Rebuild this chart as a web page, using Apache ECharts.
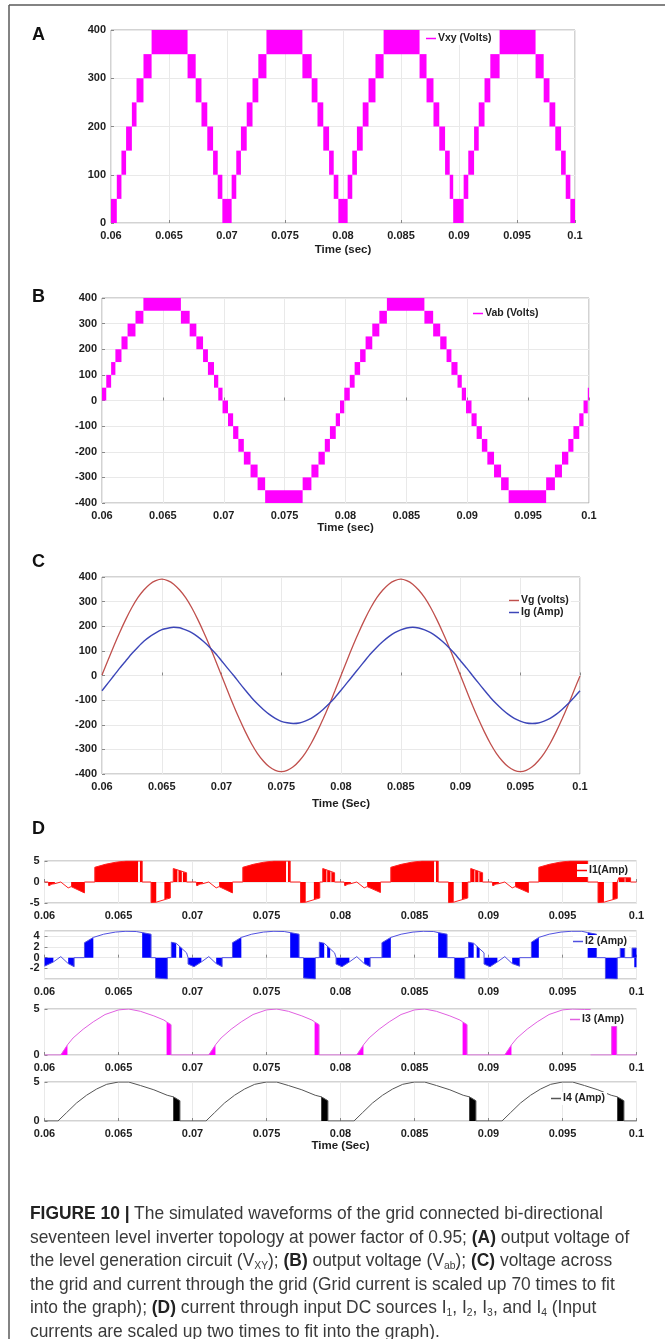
<!DOCTYPE html>
<html><head><meta charset="utf-8">
<script src="https://cdn.jsdelivr.net/npm/echarts@6/dist/echarts.min.js"></script>
<style>
html,body{margin:0;padding:0;background:#fff;}
#chart{position:absolute;left:0;top:0;width:665px;height:1339px;}
#cap{position:absolute;left:30px;top:1201px;font-family:'Liberation Sans',Arial,sans-serif;font-size:18.5px;line-height:23.6px;color:#3a3a3a;white-space:nowrap;transform:scaleX(0.94);transform-origin:0 0;}
#cap b{font-weight:bold;color:#222;}
#cap sub{font-size:11px;vertical-align:-3px;line-height:0;}
</style></head><body>
<div id="chart"></div>
<div id="cap"><b>FIGURE 10 |</b> The simulated waveforms of the grid connected bi-directional<br>seventeen level inverter topology at power factor of 0.95; <b>(A)</b> output voltage of<br>the level generation circuit (V<sub>XY</sub>); <b>(B)</b> output voltage (V<sub>ab</sub>); <b>(C)</b> voltage across<br>the grid and current through the grid (Grid current is scaled up 70 times to fit<br>into the graph); <b>(D)</b> current through input DC sources I<sub>1</sub>, I<sub>2</sub>, I<sub>3</sub>, and I<sub>4</sub> (Input<br>currents are scaled up two times to fit into the graph).</div>
<script>
// ---------- DATA ----------
const X_MIN = 0.06, X_MAX = 0.1, X_STEP = 0.005;
const LEVEL_STEP = 50;

// Panel A: Vxy staircase blocks (start time, lower level of block)
const vxyStart = [0.0600,0.0605,0.0609,0.0613,0.0618,0.0622,0.0628,0.0635,0.0666,0.0673,0.0678,0.0683,0.0688,0.0692,0.0696,
 0.0704,0.0708,0.0712,0.0717,0.0722,0.0727,0.0734,0.0765,0.0773,0.0778,0.0783,0.0788,0.0792,0.0796,
 0.0804,0.0808,0.0812,0.0817,0.0822,0.0828,0.0835,0.0866,0.0872,0.0878,0.0883,0.0888,0.0892,0.0895,
 0.0904,0.0908,0.0913,0.0917,0.0922,0.0927,0.0935,0.0966,0.0973,0.0978,0.0983,0.0988,0.0992,0.0996];
const vxyLow = [0,50,100,150,200,250,300,350,300,250,200,150,100,50,0,
 50,100,150,200,250,300,350,300,250,200,150,100,50,0,
 50,100,150,200,250,300,350,300,250,200,150,100,50,0,
 50,100,150,200,250,300,350,300,250,200,150,100,50,0];

// Panel B: Vab staircase blocks
const vabStart = [0.0600,0.06035,0.06075,0.0611,0.0616,0.0621,0.06275,0.0634,
 0.06648,0.0672,0.06775,0.0683,0.0687,0.0692,0.06955,
 0.0699,0.07035,0.07077,0.0712,0.07165,0.0722,0.07278,0.0734,
 0.07648,0.0772,0.07778,0.0783,0.07872,0.0792,0.07955,
 0.0799,0.08035,0.08075,0.0812,0.08165,0.0822,0.08278,0.0834,
 0.08648,0.0872,0.08778,0.0883,0.0887,0.0892,0.08955,
 0.0899,0.09035,0.09077,0.0912,0.09165,0.0922,0.09278,0.0934,
 0.09648,0.0972,0.09778,0.0983,0.09872,0.0992,0.09955,
 0.0999];
const vabLow = [0,50,100,150,200,250,300,350,
 300,250,200,150,100,50,0,
 -50,-100,-150,-200,-250,-300,-350,-400,
 -350,-300,-250,-200,-150,-100,-50,
 0,50,100,150,200,250,300,350,
 300,250,200,150,100,50,0,
 -50,-100,-150,-200,-250,-300,-350,-400,
 -350,-300,-250,-200,-150,-100,-50,
 0];

// Panel C: grid voltage and grid current
const cTime = [0.0600,0.0605,0.0610,0.0615,0.0620,0.0625,0.0630,0.0635,0.0640,0.0645,
 0.0650,0.0655,0.0660,0.0665,0.0670,0.0675,0.0680,0.0685,0.0690,0.0695,
 0.0700,0.0705,0.0710,0.0715,0.0720,0.0725,0.0730,0.0735,0.0740,0.0745,
 0.0750,0.0755,0.0760,0.0765,0.0770,0.0775,0.0780,0.0785,0.0790,0.0795,
 0.0800,0.0805,0.0810,0.0815,0.0820,0.0825,0.0830,0.0835,0.0840,0.0845,
 0.0850,0.0855,0.0860,0.0865,0.0870,0.0875,0.0880,0.0885,0.0890,0.0895,
 0.0900,0.0905,0.0910,0.0915,0.0920,0.0925,0.0930,0.0935,0.0940,0.0945,
 0.0950,0.0955,0.0960,0.0965,0.0970,0.0975,0.0980,0.0985,0.0990,0.0995,0.1000];
const vgVals = [2,62,121,177,229,276,316,347,371,385,
 391,385,371,347,316,276,229,177,121,61,
 0,-61,-121,-177,-229,-276,-316,-347,-371,-385,
 -390,-385,-371,-347,-316,-276,-229,-177,-121,-61,
 0,61,121,177,229,276,316,347,371,385,
 391,385,371,347,316,276,229,177,121,61,
 0,-61,-121,-177,-229,-276,-316,-347,-371,-385,
 -390,-385,-371,-347,-316,-276,-229,-177,-121,-61,-2];
const igVals = [-62,-31,0,31,60,89,115,139,158,173,
 186,192,196,194,185,174,158,138,115,89,
 60,30,1,-30,-60,-89,-115,-138,-158,-174,
 -186,-192,-195,-193,-185,-174,-158,-138,-115,-89,
 -60,-30,0,30,60,89,115,138,158,174,
 185,193,196,193,185,174,158,138,115,89,
 60,31,0,-30,-60,-89,-115,-138,-158,-174,
 -185,-193,-195,-193,-185,-174,-158,-138,-115,-89,-62];

// Panel D: input DC source currents (thin trace + filled switching blocks)
const i1Line = [[0.06,0],[0.06025,0],[0.0603,-0.9],[0.0605,-0.5],[0.0607,-0.4],[0.0608,0],[0.0611,0],[0.0616,-1.4],[0.0618,-1.1],[0.0627,-2.6],[0.0627,0],[0.0634,0],[0.0634,3.5],[0.0641,4.2],[0.0648,4.7],[0.0655,5],[0.0666,5],[0.0666,0],[0.0672,0],[0.0672,-4.9],[0.06755,-4.8],[0.0685,-3.8],[0.0685,0],[0.0687,0],[0.0687,3.2],[0.0696,2.2],[0.0696,0],
 [0.07025,0],[0.0703,-0.9],[0.0705,-0.5],[0.0707,-0.4],[0.0708,0],[0.0711,0],[0.0716,-1.4],[0.0718,-1.1],[0.0727,-2.6],[0.0727,0],[0.0734,0],[0.0734,3.5],[0.0741,4.2],[0.0748,4.7],[0.0755,5],[0.0766,5],[0.0766,0],[0.0773,0],[0.0773,-4.9],[0.07765,-4.8],[0.0786,-3.8],[0.0786,0],[0.0788,0],[0.0788,3.2],[0.0796,2.2],[0.0796,0],
 [0.08025,0],[0.0803,-0.9],[0.0805,-0.5],[0.0807,-0.4],[0.0808,0],[0.0811,0],[0.0816,-1.4],[0.0818,-1.1],[0.0827,-2.5],[0.0827,0],[0.0834,0],[0.0834,3.5],[0.0841,4.2],[0.0848,4.7],[0.0855,5],[0.0866,5],[0.0866,0],[0.0873,0],[0.0873,-4.9],[0.08765,-4.8],[0.0886,-3.8],[0.0886,0],[0.0888,0],[0.0888,3.2],[0.0896,2.2],[0.0896,0],
 [0.09025,0],[0.0903,-0.9],[0.0905,-0.5],[0.0907,-0.4],[0.0908,0],[0.0911,0],[0.0916,-1.4],[0.0918,-1.1],[0.0927,-2.5],[0.0927,0],[0.0934,0],[0.0934,3.5],[0.0941,4.2],[0.0948,4.7],[0.0955,5],[0.0967,5],[0.0967,0],[0.0974,0],[0.0974,-4.9],[0.0978,-4.8],[0.0987,-3.9],[0.0987,0],[0.0988,0],[0.0988,1.0],[0.0996,1.0],[0.0996,0],[0.1,0]];
const i1Blocks = [
 [[0.06025,-0.9],[0.0605,-0.5],[0.0607,-0.4]],[[0.0618,-1.1],[0.0627,-2.6]],[[0.0634,3.5],[0.0641,4.2],[0.0648,4.7],[0.0655,5],[0.06632,5]],[[0.06645,5],[0.0666,5]],[[0.0672,-4.9],[0.06755,-4.8]],[[0.0681,-4.1],[0.0685,-3.8]],[[0.0687,3.2],[0.06898,3.0]],[[0.06905,2.8],[0.06928,2.6]],[[0.06935,2.4],[0.0696,2.2]],
 [[0.07025,-0.9],[0.0705,-0.5],[0.0707,-0.4]],[[0.0718,-1.1],[0.0727,-2.6]],[[0.0734,3.5],[0.0741,4.2],[0.0748,4.7],[0.0755,5],[0.07632,5]],[[0.07645,5],[0.0766,5]],[[0.0773,-4.9],[0.07765,-4.8]],[[0.0782,-4.1],[0.0786,-3.8]],[[0.0788,3.2],[0.07905,3.0]],[[0.0791,2.8],[0.07932,2.6]],[[0.07938,2.4],[0.0796,2.2]],
 [[0.08025,-0.9],[0.0805,-0.5],[0.0807,-0.4]],[[0.0818,-1.1],[0.0827,-2.5]],[[0.0834,3.5],[0.0841,4.2],[0.0848,4.7],[0.0855,5],[0.08632,5]],[[0.08645,5],[0.0866,5]],[[0.0873,-4.9],[0.08765,-4.8]],[[0.0882,-4.1],[0.0886,-3.8]],[[0.0888,3.2],[0.08905,3.0]],[[0.0891,2.8],[0.08932,2.6]],[[0.08938,2.4],[0.0896,2.2]],
 [[0.09025,-0.9],[0.0905,-0.5],[0.0907,-0.4]],[[0.0918,-1.1],[0.0927,-2.5]],[[0.0934,3.5],[0.0941,4.2],[0.0948,4.7],[0.0955,5],[0.0967,5]],[[0.0974,-4.9],[0.0978,-4.8]],[[0.09838,-4.1],[0.0987,-3.9]],[[0.0988,1.0],[0.0992,1.0]],[[0.09925,1.0],[0.0996,1.0]]];

const i2Line = [[0.06,-1.6],[0.0606,-0.8],[0.0611,0.2],[0.0616,-1.1],[0.062,-1.7],[0.062,0],[0.0627,0],[0.0627,2.8],[0.0633,3.8],[0.064,4.4],[0.0648,4.8],[0.0655,4.95],[0.0662,4.9],[0.0666,4.7],[0.0672,4.4],[0.0672,0],[0.0675,0],[0.0675,-3.8],[0.0683,-4.0],[0.0683,0],[0.06857,0],[0.06857,2.9],[0.0689,2.7],[0.0696,0.9],[0.0697,0],[0.0697,-1.2],[0.0701,-1.7],[0.0706,-0.8],
 [0.0711,0.2],[0.0716,-1.1],[0.072,-1.7],[0.072,0],[0.0727,0],[0.0727,2.8],[0.0733,3.8],[0.074,4.4],[0.0748,4.8],[0.0755,4.95],[0.0762,4.9],[0.0766,4.7],[0.0772,4.4],[0.0772,0],[0.0775,0],[0.0775,-3.8],[0.0783,-4.0],[0.0783,0],[0.07857,0],[0.07857,2.9],[0.0789,2.7],[0.0796,0.9],[0.0797,0],[0.0797,-1.2],[0.0801,-1.7],[0.0806,-0.8],
 [0.0811,0.2],[0.0816,-1.1],[0.082,-1.7],[0.082,0],[0.0828,0],[0.0828,2.8],[0.0834,3.8],[0.0841,4.4],[0.0849,4.8],[0.0856,4.95],[0.0863,4.9],[0.0866,4.7],[0.0872,4.4],[0.0872,0],[0.0877,0],[0.0877,-3.8],[0.0884,-4.0],[0.0884,0],[0.08865,0],[0.08865,2.9],[0.089,2.7],[0.0897,0.9],[0.0897,0],[0.0897,-1.2],[0.0901,-1.7],[0.0906,-0.8],
 [0.0911,0.2],[0.0916,-1.1],[0.0921,-1.6],[0.0921,0],[0.0929,0],[0.0929,2.9],[0.0934,3.8],[0.0941,4.4],[0.0949,4.8],[0.0956,4.95],[0.0963,4.95],[0.0967,4.7],[0.0973,4.4],[0.0973,0],[0.0979,0],[0.0979,-3.9],[0.0987,-4.0],[0.0987,0],[0.0989,0],[0.0989,1.8],[0.0992,1.8],[0.0992,0],[0.0997,0],[0.0997,1.8],[0.1,1.8]];
const i2Blocks = [
 [[0.06,-1.6],[0.0606,-0.8]],[[0.0616,-1.1],[0.062,-1.7]],[[0.0627,2.8],[0.0633,3.8]],[[0.0666,4.7],[0.0672,4.4]],[[0.0675,-3.8],[0.0683,-4.0]],[[0.06857,2.9],[0.0689,2.7]],[[0.0691,2.2],[0.0693,1.7]],[[0.0697,-1.2],[0.0701,-1.7],[0.0706,-0.8]],
 [[0.0716,-1.1],[0.072,-1.7]],[[0.0727,2.8],[0.0733,3.8]],[[0.0766,4.7],[0.0772,4.4]],[[0.0775,-3.8],[0.0783,-4.0]],[[0.07857,2.9],[0.0789,2.7]],[[0.0791,2.2],[0.0793,1.7]],[[0.0797,-1.2],[0.0801,-1.7],[0.0806,-0.8]],
 [[0.0816,-1.1],[0.082,-1.7]],[[0.0828,2.8],[0.0834,3.8]],[[0.0866,4.7],[0.0872,4.4]],[[0.0877,-3.8],[0.0884,-4.0]],[[0.08865,2.9],[0.089,2.7]],[[0.0892,2.2],[0.0894,1.7]],[[0.0897,-1.2],[0.0901,-1.7],[0.0906,-0.8]],
 [[0.0916,-1.1],[0.0921,-1.6]],[[0.0929,2.9],[0.0934,3.8]],[[0.0967,4.7],[0.0973,4.4]],[[0.0979,-3.9],[0.0987,-4.0]],[[0.0989,1.8],[0.0992,1.8]],[[0.0997,1.8],[0.1,1.8]],[[0.09985,-1.8],[0.1,-1.8]]];

const i3Line = [[0.06,0],[0.0611,0],[0.06155,1.1],[0.06193,1.85],[0.06261,2.8],[0.06329,3.6],[0.06409,4.4],[0.065,4.9],[0.06568,5],[0.06648,4.75],[0.06739,4.25],[0.06807,3.8],[0.06825,3.6],[0.06855,3.3],[0.06855,0],
 [0.0711,0],[0.07155,1.1],[0.07193,1.85],[0.07261,2.8],[0.07329,3.6],[0.07409,4.4],[0.075,4.9],[0.07568,5],[0.07648,4.75],[0.07739,4.25],[0.07807,3.8],[0.07825,3.6],[0.07855,3.3],[0.07855,0],
 [0.0811,0],[0.08155,1.1],[0.08193,1.85],[0.08261,2.8],[0.08329,3.6],[0.08409,4.4],[0.085,4.9],[0.08568,5],[0.08648,4.75],[0.08739,4.25],[0.08807,3.8],[0.08825,3.6],[0.08855,3.3],[0.08855,0],
 [0.0911,0],[0.09155,1.1],[0.09193,1.85],[0.09261,2.8],[0.09329,3.6],[0.09409,4.4],[0.095,4.9],[0.09568,5],[0.0965,4.95],[0.0969,4.95],[0.0969,null],[0.0969,0],[0.09832,0],[0.09832,3.1],[0.09866,3.1],[0.09866,0],[0.1,0]];
const i3Blocks = [[[0.0611,0.05],[0.06155,1.1]],[[0.06825,3.6],[0.06855,3.3]],
 [[0.0711,0.05],[0.07155,1.1]],[[0.07825,3.6],[0.07855,3.3]],
 [[0.0811,0.05],[0.08155,1.1]],[[0.08825,3.6],[0.08855,3.3]],
 [[0.0911,0.05],[0.09155,1.1]],[[0.09832,3.1],[0.09866,3.1]]];

const i4Line = [[0.06,0],[0.06091,0],[0.06148,1.05],[0.06216,2.3],[0.06284,3.3],[0.06352,4.1],[0.0642,4.7],[0.065,5],[0.06568,5],[0.06648,4.55],[0.06739,4.0],[0.06829,3.3],[0.0687,3.1],[0.06915,2.6],[0.06915,0],
 [0.07091,0],[0.07148,1.05],[0.07216,2.3],[0.07284,3.3],[0.07352,4.1],[0.0742,4.7],[0.075,5],[0.07568,5],[0.07648,4.55],[0.07739,4.0],[0.07829,3.3],[0.0787,3.1],[0.07915,2.6],[0.07915,0],
 [0.08091,0],[0.08148,1.05],[0.08216,2.3],[0.08284,3.3],[0.08352,4.1],[0.0842,4.7],[0.085,5],[0.08568,5],[0.08648,4.55],[0.08739,4.0],[0.08829,3.3],[0.0887,3.1],[0.08915,2.6],[0.08915,0],
 [0.09091,0],[0.09148,1.05],[0.09216,2.3],[0.09284,3.3],[0.09352,4.1],[0.0942,4.7],[0.095,5],[0.09568,5],[0.09648,4.55],[0.09739,4.0],[0.09829,3.3],[0.0987,3.1],[0.09915,2.6],[0.09915,0],[0.1,0]];
const i4Blocks = [[[0.0687,3.15],[0.06915,2.6]],[[0.0787,3.15],[0.07915,2.6]],[[0.0887,3.15],[0.08915,2.6]],[[0.0987,3.1],[0.09915,2.6]]];

// ---------- CHART ----------
const FONT = "'Liberation Sans', Arial, sans-serif";
const chart = echarts.init(document.getElementById('chart'), null, {renderer:'canvas'});

function stairData(starts, lows){
  return starts.map((t,i)=>[t, i+1<starts.length?starts[i+1]:X_MAX, lows[i], lows[i]+LEVEL_STEP]);
}
function rectItem(params, api){
  const a = api.coord([api.value(0), api.value(3)]);
  const b = api.coord([api.value(1), api.value(2)]);
  return {type:'rect', shape:{x:a[0], y:a[1], width:Math.max(b[0]-a[0],1), height:b[1]-a[1]}, style:{fill:api.visual('color')}};
}
function polyRender(polys){
  return function(params, api){
    const p = polys[params.dataIndex];
    const pts = p.map(q=>api.coord(q));
    pts.push(api.coord([p[p.length-1][0],0]));
    pts.push(api.coord([p[0][0],0]));
    const w = pts[pts.length-2][0]-pts[pts.length-1][0];
    if (w < 1.2) { pts[pts.length-2][0] += (1.2-w); pts[pts.length-3][0] += (1.2-w); }
    return {type:'polygon', shape:{points:pts}, style:{fill:api.visual('color')}};
  };
}
function polyData(polys){ return polys.map(p=>[p[0][0], p[0][1]]); }

const grids = [
  {left:111, top:30, width:464, height:193},
  {left:102, top:298, width:487, height:205},
  {left:102, top:577, width:478, height:197},
  {left:44.5, top:861, width:592, height:42},
  {left:44.5, top:931, width:592, height:48},
  {left:44.5, top:1009, width:592, height:46},
  {left:44.5, top:1082, width:592, height:39}
].map(g=>Object.assign(g,{show:true, borderColor:'#a6a6a6', borderWidth:1, backgroundColor:'#fff'}));

const labelStyle = {fontFamily:FONT, fontWeight:'bold', fontSize:11, color:'#1e1e1e'};
function xAx(i, name, gap){
  return {type:'value', gridIndex:i, min:X_MIN, max:X_MAX, interval:X_STEP,
    axisLine:{show:false}, axisTick:{show:true, inside:true, length:3, lineStyle:{color:'#888'}},
    splitLine:{show:true, lineStyle:{color:'#e9e9e9', width:1}},
    axisLabel:Object.assign({margin:7}, labelStyle),
    name:name||'', nameLocation:'middle', nameGap:gap||20,
    nameTextStyle:{fontFamily:FONT, fontWeight:'bold', fontSize:11.5, color:'#1e1e1e'}};
}
function yAx(i, min, max, interval, hideMax){
  return {type:'value', gridIndex:i, min:min, max:max, interval:interval,
    axisLine:{show:false}, axisTick:{show:true, inside:true, length:3, lineStyle:{color:'#888'}},
    splitLine:{show:true, lineStyle:{color:'#e9e9e9', width:1}},
    axisLabel:Object.assign({margin:5, showMaxLabel:!hideMax}, labelStyle)};
}

const legendText = {fontFamily:FONT, fontWeight:'bold', fontSize:10.5, color:'#222', padding:[0,0,0,-3]};
function leg(name, left, top, extra){
  return Object.assign({data:Array.isArray(name)?name:[name], left:left, top:top, icon:'rect', itemWidth:10, itemHeight:1.5,
    padding:[1,2,1,0], itemGap:2, backgroundColor:'#fff', selectedMode:false, textStyle:legendText}, extra||{});
}

const MAG = '#ff00ff';
const option = {
  animation:false,
  grid:grids,
  xAxis:[xAx(0,'Time (sec)',21), xAx(1,'Time (sec)',18), xAx(2,'Time (Sec)',24), xAx(3), xAx(4), xAx(5), xAx(6,'Time (Sec)',13)],
  yAxis:[yAx(0,0,400,100), yAx(1,-400,400,100), yAx(2,-400,400,100), yAx(3,-5,5,5), yAx(4,-4,5,2,true), yAx(5,0,5,5), yAx(6,0,5,5)],
  legend:[
    leg('Vxy (Volts)',426,32),
    leg('Vab (Volts)',473,307),
    leg(['Vg (volts)','Ig (Amp)'],509,594,{orient:'vertical', itemGap:1}),
    leg('I1(Amp)',577,864),
    leg('I2 (Amp)',573,935),
    leg('I3 (Amp)',570,1013),
    leg('I4 (Amp)',551,1092)
  ],
  graphic:[
    {type:'line', shape:{x1:9, y1:5, x2:665, y2:5}, style:{stroke:'#5a5a5a', lineWidth:1.5}},
    {type:'line', shape:{x1:9, y1:5, x2:9, y2:1339}, style:{stroke:'#5a5a5a', lineWidth:1.5}},
    {type:'text', left:32, top:26, style:{text:'A', font:"bold 18px 'Liberation Sans',sans-serif", fill:'#111'}},
    {type:'text', left:32, top:288, style:{text:'B', font:"bold 18px 'Liberation Sans',sans-serif", fill:'#111'}},
    {type:'text', left:32, top:553, style:{text:'C', font:"bold 18px 'Liberation Sans',sans-serif", fill:'#111'}},
    {type:'text', left:32, top:820, style:{text:'D', font:"bold 18px 'Liberation Sans',sans-serif", fill:'#111'}}
  ],
  series:[
    {name:'Vxy (Volts)', type:'custom', xAxisIndex:0, yAxisIndex:0, itemStyle:{color:MAG}, renderItem:rectItem,
      encode:{x:[0,1], y:[2,3]}, data:stairData(vxyStart, vxyLow), silent:true},
    {name:'Vab (Volts)', type:'custom', xAxisIndex:1, yAxisIndex:1, itemStyle:{color:MAG}, renderItem:rectItem,
      encode:{x:[0,1], y:[2,3]}, data:stairData(vabStart, vabLow), silent:true},
    {name:'Vg (volts)', type:'line', xAxisIndex:2, yAxisIndex:2, showSymbol:false, symbol:'none', smooth:0.2,
      itemStyle:{color:'#c0504d'}, lineStyle:{color:'#c0504d', width:1.3}, data:cTime.map((t,i)=>[t, vgVals[i]]), silent:true},
    {name:'Ig (Amp)', type:'line', xAxisIndex:2, yAxisIndex:2, showSymbol:false, symbol:'none', smooth:0.2,
      itemStyle:{color:'#3c46b8'}, lineStyle:{color:'#3c46b8', width:1.4}, data:cTime.map((t,i)=>[t, igVals[i]]), silent:true},
    {name:'I1(Amp)', type:'line', xAxisIndex:3, yAxisIndex:3, showSymbol:false, symbol:'none',
      itemStyle:{color:'#ff0000'}, lineStyle:{color:'#ff2020', width:1}, data:i1Line, silent:true},
    {name:'I1(Amp)', type:'custom', xAxisIndex:3, yAxisIndex:3, itemStyle:{color:'#ff0000'}, renderItem:polyRender(i1Blocks),
      encode:{x:0, y:1}, data:polyData(i1Blocks), silent:true},
    {name:'I2 (Amp)', type:'line', xAxisIndex:4, yAxisIndex:4, showSymbol:false, symbol:'none',
      itemStyle:{color:'#5050e0'}, lineStyle:{color:'#5050e0', width:1}, data:i2Line, silent:true},
    {name:'I2 (Amp)', type:'custom', xAxisIndex:4, yAxisIndex:4, itemStyle:{color:'#0000ff'}, renderItem:polyRender(i2Blocks),
      encode:{x:0, y:1}, data:polyData(i2Blocks), silent:true},
    {name:'I3 (Amp)', type:'line', xAxisIndex:5, yAxisIndex:5, showSymbol:false, symbol:'none', connectNulls:false,
      itemStyle:{color:'#e060e0'}, lineStyle:{color:'#e060e0', width:1}, data:i3Line, silent:true},
    {name:'I3 (Amp)', type:'custom', xAxisIndex:5, yAxisIndex:5, itemStyle:{color:MAG}, renderItem:polyRender(i3Blocks),
      encode:{x:0, y:1}, data:polyData(i3Blocks), silent:true},
    {name:'I4 (Amp)', type:'line', xAxisIndex:6, yAxisIndex:6, showSymbol:false, symbol:'none',
      itemStyle:{color:'#555'}, lineStyle:{color:'#555', width:1}, data:i4Line, silent:true},
    {name:'I4 (Amp)', type:'custom', xAxisIndex:6, yAxisIndex:6, itemStyle:{color:'#000'}, renderItem:polyRender(i4Blocks),
      encode:{x:0, y:1}, data:polyData(i4Blocks), silent:true}
  ]
};
chart.setOption(option);
</script>
</body></html>
